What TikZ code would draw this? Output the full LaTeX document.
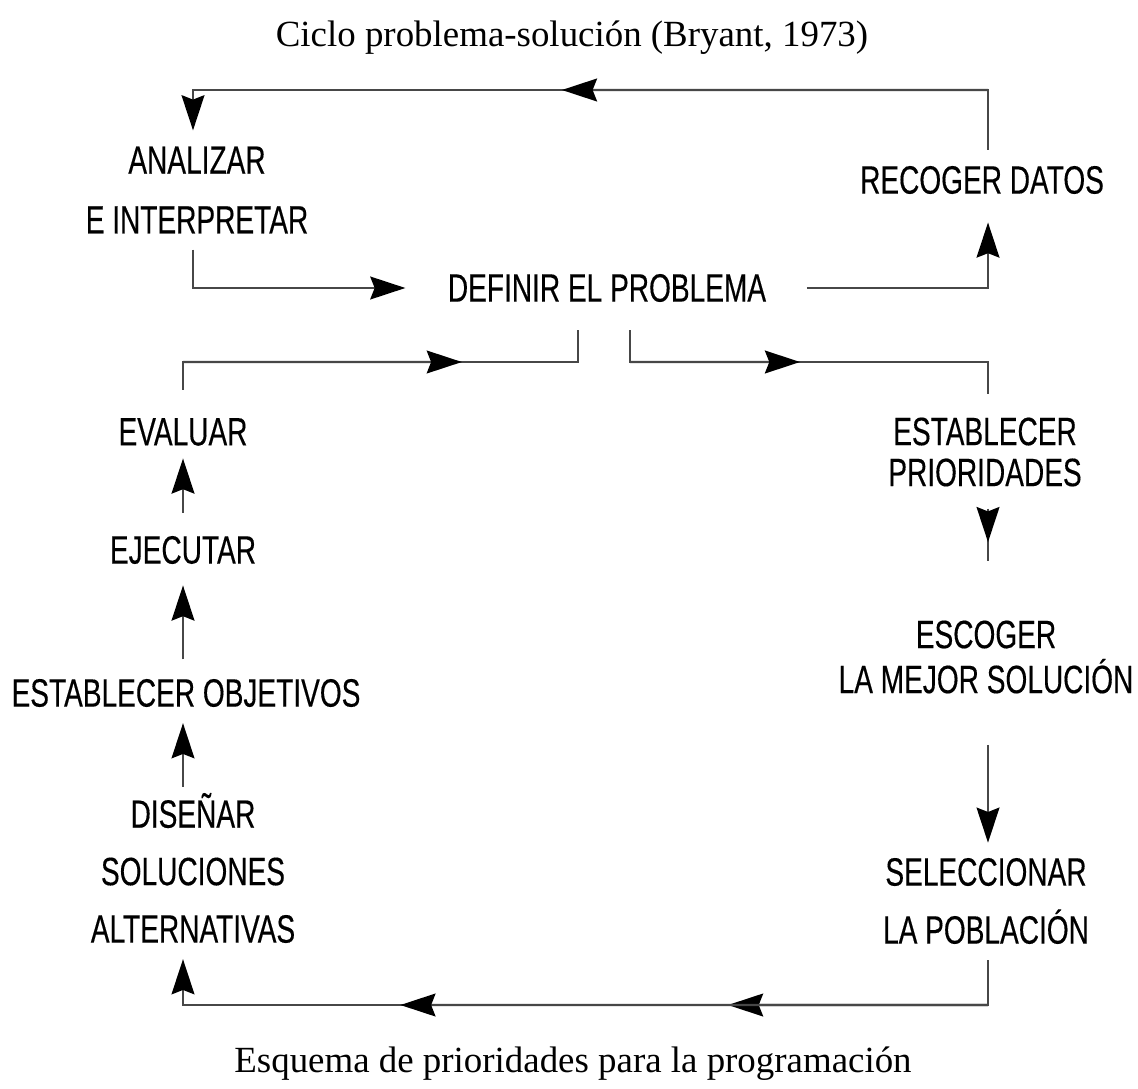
\documentclass[tikz,border=0pt]{standalone}
\usepackage{fontspec}
\setmainfont{Liberation Serif}
\newfontfamily\labfont[FakeStretch=0.71,FakeBold=0.3]{Liberation Sans}
\usetikzlibrary{arrows.meta,calc}
\begin{document}
\begin{tikzpicture}[x=0.02cm,y=-0.02cm,
  lbl/.style={font=\labfont\fontsize{22.5pt}{#1}\selectfont, align=center, inner sep=0pt},
  lbl/.default=34pt,
  captext/.style={font=\fontsize{21pt}{25pt}\selectfont, anchor=base, inner sep=0pt},
  conn/.style={draw=black!72, line width=1.3pt},
  tip/.tip={Stealth[length=20pt,width=13pt,inset=2.5pt,color=black]}]
\fill[white] (0,0) rectangle (1138,1088);
\useasboundingbox (0,0) rectangle (1138,1088);
% texts
\node[captext] (title) at (572,47) {Ciclo problema-solución (Bryant, 1973)};
\node[captext] (caption) at (573,1072) {Esquema de prioridades para la programación};
\node[lbl=34pt] (anal) at (197,190) {ANALIZAR\\E INTERPRETAR};
\node[lbl] (recoger) at (982,180) {RECOGER DATOS};
\node[lbl] (definir) at (607,288) {DEFINIR EL PROBLEMA};
\node[lbl] (evaluar) at (183,432) {EVALUAR};
\node[lbl=23.3pt] (prior) at (985,452) {ESTABLECER\\PRIORIDADES};
\node[lbl] (ejecutar) at (183,550) {EJECUTAR};
\node[lbl=25.6pt] (escoger) at (986,657) {ESCOGER\\LA MEJOR SOLUCIÓN};
\node[lbl] (objetivos) at (186,693) {ESTABLECER OBJETIVOS};
\node[lbl=32.7pt] (disenar) at (193,868) {DISEÑAR\\SOLUCIONES\\ALTERNATIVAS};
\node[lbl=33pt] (selecc) at (986,901) {SELECCIONAR\\LA POBLACIÓN};
% corner coordinates
\coordinate (colR) at (988,0);
\coordinate (colL) at (183,0);
\coordinate (topR) at (988,90);
\coordinate (topL) at (193,90);
\coordinate (midL) at (578,362);
\coordinate (midR) at (630,362);
\coordinate (botR) at (988,1005);
\coordinate (botL) at (183,1005);
% connectors
\draw[conn, shorten <=9pt, shorten >=9pt, -{tip}] (topR |- recoger.north) -- (topR) -- (topL) -- (topL |- anal.north);
\draw[conn, -{tip}] (topR) -- ($(topR)!0.536!(topL)$);
\draw[conn, shorten <=9pt, shorten >=24pt, -{tip}] (topL |- anal.south) |- (definir.west);
\draw[conn, shorten <=23pt, shorten >=16pt, -{tip}] (definir.east) -| (colR |- recoger.south);
\draw[conn, shorten <=16pt, shorten >=16pt] (colL |- evaluar.north) |- (midL) -- (midL |- definir.south);
\draw[conn, -{tip}] (colL |- midL) -- ($(colL |- midL)!0.706!(midL)$);
\draw[conn, shorten <=16pt, shorten >=13pt] (midR |- definir.south) -- (midR) -| (colR |- prior.north);
\draw[conn, -{tip}] (midR) -- ($(midR)!0.475!(colR |- midR)$);
\draw[conn, shorten <=12.5pt, shorten >=33.5pt] (colR |- prior.south) -- (colR |- escoger.north);
\draw[conn, shorten <=12.5pt, shorten >=44.4pt, -{tip}] (colR |- prior.south) -- (colR |- escoger.north);
\draw[conn, shorten <=29pt, shorten >=8.5pt, -{tip}] (colR |- escoger.south) -- (colR |- selecc.north);
\draw[conn, shorten <=9pt, shorten >=9pt, -{tip}] (colR |- selecc.south) -- (botR) -- (botL) -- (colL |- disenar.south);
\draw[conn, -{tip}] (botR) -- ($(botR)!0.323!(botL)$);
\draw[conn, -{tip}] (botR) -- ($(botR)!0.730!(botL)$);
\draw[conn, shorten <=3.5pt, shorten >=9pt, -{tip}] (colL |- disenar.north) -- (colL |- objetivos.south);
\draw[conn, shorten <=11pt, shorten >=12pt, -{tip}] (colL |- objetivos.north) -- (colL |- ejecutar.south);
\draw[conn, shorten <=13pt, shorten >=7pt, -{tip}] (colL |- ejecutar.north) -- (colL |- evaluar.south);
\end{tikzpicture}
\end{document}
